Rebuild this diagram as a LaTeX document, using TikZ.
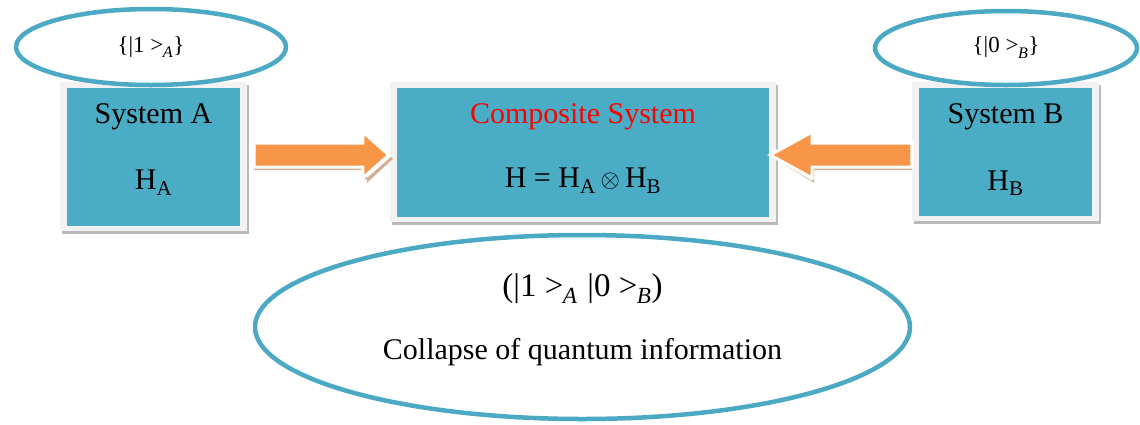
\documentclass[tikz,border=0pt]{standalone}
\usepackage{fontspec}
\setmainfont{Liberation Serif}
\newfontfamily\serfont{Liberation Serif}
\usetikzlibrary{shapes.geometric,shadows,calc}
\definecolor{teal}{HTML}{4BACC6}
\definecolor{ringc}{HTML}{4BA9C4}
\definecolor{orangec}{HTML}{F79646}
\definecolor{framec}{HTML}{F2F2F2}
\definecolor{arrshadow}{HTML}{C89B78}
\definecolor{redc}{HTML}{FF0000}
\newcommand{\ketsub}[2]{|#1\hspace{0.25em}>\textsubscript{\kern-0.5pt\raisebox{-0.3ex}{\textit{#2}}}}
\begin{document}
\begin{tikzpicture}[x=1pt,y=-1pt,
  sysbox/.style={fill=teal, draw=none, inner sep=0pt},
  framebox/.style={fill=framec, draw=none, drop shadow={shadow xshift=2pt, shadow yshift=-3pt, fill=black!45, opacity=0.6}},
  ring/.style={ellipse, draw=ringc, line width=4.5pt, fill=white, inner sep=0pt},
  txt/.style={font=\serfont\fontsize{30}{33}\selectfont, inner sep=0pt},
  mtxt/.style={font=\serfont\fontsize{33}{36}\selectfont, inner sep=0pt},
  small/.style={font=\serfont\fontsize{23}{26}\selectfont, inner sep=0pt},
  blockarrow/.style={fill=orangec, draw=white, line width=3pt, line join=miter},
  arrshad/.style={fill=arrshadow, draw=none, opacity=0.8}
]
\useasboundingbox (0,0) rectangle (1140,424);
\fill[white] (0,0) rectangle (1140,424);

% boxes (nodes)
\node[sysbox, minimum width=173pt, minimum height=138pt] (A) at (153.5,157) {};
\node[sysbox, minimum width=372pt, minimum height=129pt] (C) at (583,152.5) {};
\node[sysbox, minimum width=173pt, minimum height=128pt] (B) at (1005.5,152) {};

% frames behind boxes
\foreach \n in {A,C,B}{
  \path[framebox] ($(\n.south west)+(-7,5)$) rectangle ($(\n.north east)+(7,-6)$);
  \fill[teal] (\n.south west) rectangle (\n.north east);
}

% texts in boxes
\node[txt] (At) at ($(A.north)+(0,29)$) {System A};
\node[txt] (Ah) at ($(A.north)+(0,95)$) {H\textsubscript{A}};
\node[txt, text=redc] (Ct) at ($(C.north)+(0,29)$) {Composite System};
\node[txt] (Ch) at ($(C.north)+(0,93)$) {H = H\textsubscript{A}\,$\otimes$\,H\textsubscript{B}};
\node[txt] (Bt) at ($(B.north)+(0,29)$) {System B};
\node[txt] (Bh) at ($(B.north)+(0,95)$) {H\textsubscript{B}};

% arrow axis
\coordinate (axis) at (0,155);
\path (A.east) ++(14,0) coordinate (la0);
\path (C.west) ++(-8,0) coordinate (lt0);
\coordinate (la) at (la0 |- axis);
\coordinate (lt) at (lt0 |- axis);
\path (B.west) ++(-7,0) coordinate (ra0);
\path (C.east) ++(1,0) coordinate (rt0);
\coordinate (ra) at (ra0 |- axis);
\coordinate (rt) at (rt0 |- axis);

% left block arrow A -> C
\fill[arrshad] ($(la)+(0,12)$) -- ($(lt)+(-24,12)$) -- ($(lt)+(-24,25)$) -- ($(lt)+(2,2)$) -- ($(lt)+(4,4)$) -- ($(lt)+(-22,28)$) -- ($(lt)+(-22,15)$) -- ($(la)+(0,15)$) -- cycle;
\draw[blockarrow] ($(la)+(0,-12)$) -- ($(lt)+(-26,-12)$) -- ($(lt)+(-26,-23)$) -- (lt) -- ($(lt)+(-26,23)$) -- ($(lt)+(-26,12)$) -- ($(la)+(0,12)$) -- cycle;

% right block arrow B -> C
\fill[arrshad] ($(ra)+(0,12)$) -- ($(rt)+(42,12)$) -- ($(rt)+(42,26)$) -- ($(rt)+(2,2)$) -- ($(rt)+(44,28)$) -- ($(rt)+(44,15)$) -- ($(ra)+(0,15)$) -- cycle;
\draw[blockarrow] ($(ra)+(0,-12)$) -- ($(rt)+(42,-12)$) -- ($(rt)+(42,-23)$) -- (rt) -- ($(rt)+(42,23)$) -- ($(rt)+(42,12)$) -- ($(ra)+(0,12)$) -- cycle;

% ellipses
\node[ring, minimum width=270pt, minimum height=76pt] (EA) at (151,47) {};
\node[small] (EAt) at (EA.center) {\{\ketsub{1}{A}\}};
\node[ring, minimum width=262pt, minimum height=74pt] (EB) at (1006,48) {};
\node[small] (EBt) at (EB.center) {\{\ketsub{0}{B}\}};
\node[ring, minimum width=655pt, minimum height=184pt] (EC) at (582.5,327) {};
\node[mtxt] (ECm) at ($(EC.center)+(0,-38)$) {(\ketsub{1}{A}\hspace{0.3em}\ketsub{0}{B})};
\node[txt] (ECt) at ($(EC.center)+(0,25)$) {Collapse of quantum information};
\end{tikzpicture}
\end{document}
